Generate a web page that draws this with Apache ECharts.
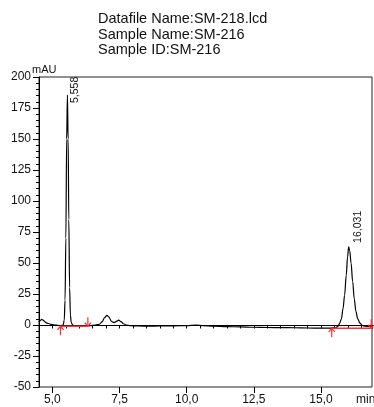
<!DOCTYPE html>
<html>
<head>
<meta charset="utf-8">
<script src="https://cdn.jsdelivr.net/npm/echarts@6/dist/echarts.min.js"></script>
<style>
  html, body { margin: 0; padding: 0; background: #fff; }
  #chart { width: 374px; height: 407px; }
</style>
</head>
<body>
<div id="chart"></div>
<script>
// chromatogram trace, [time (min), signal (mAU)]
const trace = [
  [4.50, 2.5], [4.55, 3.6], [4.60, 4.5], [4.65, 4.0], [4.72, 2.6], [4.80, 1.5],
  [4.90, 0.8], [5.00, 0.3], [5.10, 0.0], [5.20, -0.3], [5.30, -0.5], [5.40, 0.0],
  [5.44, 4], [5.47, 20], [5.50, 70], [5.53, 150], [5.558, 185.5], [5.585, 150],
  [5.61, 85], [5.64, 30], [5.67, 8], [5.70, 2], [5.75, 0.2], [5.80, -0.4],
  [5.90, -0.8], [6.00, -1.0], [6.20, -1.0], [6.40, -0.6], [6.60, 0.0], [6.75, 0.6],
  [6.85, 2.6], [6.95, 6.2], [7.03, 7.8], [7.10, 6.5], [7.20, 3.0], [7.30, 1.9],
  [7.38, 2.9], [7.47, 3.9], [7.55, 2.8], [7.65, 1.0], [7.75, 0.0], [7.90, -0.5],
  [8.20, -0.8], [8.60, -0.9], [9.00, -0.8], [9.50, -0.7], [10.00, -0.5], [10.35, 0.0],
  [10.60, -0.6], [11.00, -1.0], [11.50, -1.3], [12.00, -1.5], [12.50, -1.8], [13.00, -2.0],
  [13.50, -2.1], [14.00, -2.2], [14.50, -2.4], [15.00, -2.5], [15.30, -2.5], [15.55, -2.2],
  [15.63, -1.0], [15.70, 1.5], [15.76, 5], [15.82, 13], [15.88, 24], [15.94, 40],
  [15.99, 55], [16.031, 63], [16.07, 60], [16.12, 50], [16.18, 35], [16.24, 21],
  [16.30, 11], [16.37, 5], [16.45, 1.5], [16.55, -0.5], [16.65, -1.0], [16.75, -1.2],
  [16.90, -1.3]
];

// integration baselines (red)
const baseline1 = [[5.30, -1.0], [6.32, -1.0]];
const baseline2 = [[15.40, -2.7], [16.90, -2.7]];
const arrowsUp = [[5.30, -1.0], [15.40, -2.7]];
const arrowsDown = [[6.32, -1.0], [16.87, -2.7]];

// peak labels: retention time, apex height, text
const peaks = [[5.558, 185.5, '5,558'], [16.031, 63, '16,031']];

// axes
const xMajorTicks = [5, 7.5, 10, 12.5, 15];
const yMajorTicks = [-50, -25, 0, 25, 50, 75, 100, 125, 150, 175, 200];

const titleLines = ['Datafile Name:SM-218.lcd', 'Sample Name:SM-216', 'Sample ID:SM-216'];

const FONT = '"Liberation Sans", Arial, sans-serif';
const RED = '#ff3030';

// label offsets (rotated frame) for the two peak labels
const peakLabelOffsets = [[-8, 8], [4, 9]];

// small open arrow, tip sitting on the baseline point
function arrowRenderer(dir) {
  return function (params, api) {
    const p = api.coord([api.value(0), api.value(1)]);
    const s = dir; // 1 = pointing up, -1 = pointing down
    return {
      type: 'group',
      children: [
        {
          type: 'polyline',
          shape: { points: [[p[0], p[1]], [p[0], p[1] + 9 * s]] },
          style: { stroke: RED, lineWidth: 1.2, fill: null },
        },
        {
          type: 'polyline',
          shape: { points: [[p[0] - 3, p[1] + 3.5 * s], [p[0], p[1]], [p[0] + 3, p[1] + 3.5 * s]] },
          style: { stroke: RED, lineWidth: 1.2, fill: null },
        },
      ],
    };
  };
}

const chart = echarts.init(document.getElementById('chart'));

const option = {
  animation: false,
  title: {
    text: titleLines.join('\n'),
    left: 98,
    top: 11,
    padding: 0,
    textStyle: { fontFamily: FONT, fontSize: 14.5, fontWeight: 'normal', lineHeight: 15.7, color: '#111' },
  },
  graphic: [
    { type: 'text', left: 32, top: 64, style: { text: 'mAU', font: '11px ' + FONT, fill: '#111' } },
    { type: 'text', left: 356, top: 394, style: { text: 'min', font: '12px ' + FONT, fill: '#111' } },
  ],
  grid: {
    left: 39, right: 2, top: 77, bottom: 20,
    show: true, borderColor: '#222', borderWidth: 1,
  },
  xAxis: [
    {
      type: 'value', min: 4.5, max: 16.9, interval: 0.5,
      axisLine: { show: true, lineStyle: { color: '#000', width: 1 } },
      axisTick: { show: true, length: 3.5, lineStyle: { color: '#000' } },
      axisLabel: { show: false },
      splitLine: { show: false },
    },
    {
      type: 'value', min: 4.5, max: 16.9, position: 'bottom',
      axisLine: { show: false },
      axisTick: { show: true, length: 6, customValues: xMajorTicks, lineStyle: { color: '#000' } },
      axisLabel: {
        show: true, customValues: xMajorTicks, margin: 7,
        fontFamily: FONT, fontSize: 12, color: '#111',
        formatter: (v) => v.toFixed(1).replace('.', ','),
      },
      splitLine: { show: false },
    },
  ],
  yAxis: [
    {
      type: 'value', min: -50, max: 200, interval: 25,
      axisLine: { show: true, lineStyle: { color: '#000', width: 1 } },
      axisTick: { show: true, length: 6, customValues: yMajorTicks, lineStyle: { color: '#000' } },
      minorTick: { show: true, splitNumber: 5, length: 3, lineStyle: { color: '#000' } },
      axisLabel: {
        customValues: yMajorTicks, margin: 8,
        fontFamily: FONT, fontSize: 12, color: '#111',
      },
      splitLine: { show: false },
    },
  ],
  series: [
    {
      name: 'trace',
      type: 'line',
      data: trace,
      showSymbol: false,
      smooth: 0.35,
      smoothMonotone: 'x',
      lineStyle: { color: '#000', width: 1.2 },
      z: 2,
      markPoint: {
        symbol: 'circle',
        symbolSize: 0,
        label: {
          show: true,
          position: 'inside',
          rotate: 90,
          align: 'left',
          verticalAlign: 'middle',
          fontFamily: FONT,
          fontSize: 10.5,
          color: '#111',
          formatter: (p) => p.value,
        },
        data: peaks.map((p, i) => ({
          coord: [p[0], p[1]],
          value: p[2],
          label: { offset: peakLabelOffsets[i] },
        })),
      },
    },
    {
      type: 'line', data: baseline1, showSymbol: false,
      lineStyle: { color: RED, width: 1.5 }, z: 3,
    },
    {
      type: 'line', data: baseline2, showSymbol: false,
      lineStyle: { color: RED, width: 1.5 }, z: 3,
    },
    { type: 'custom', data: arrowsUp, renderItem: arrowRenderer(1), z: 4 },
    { type: 'custom', data: arrowsDown, renderItem: arrowRenderer(-1), z: 4 },
  ],
};

chart.setOption(option);
</script>
</body>
</html>
